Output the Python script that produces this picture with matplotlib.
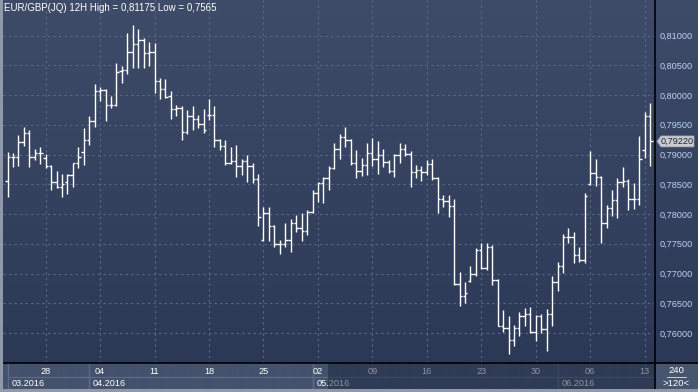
import numpy as np
import matplotlib.pyplot as plt
from matplotlib.patches import Rectangle, Polygon
from matplotlib.lines import Line2D
from matplotlib.ticker import FuncFormatter
from matplotlib.colors import to_rgb

# EUR/GBP 12H bars, 22.03.2016 - 14.06.2016
opens = [0.7856, 0.7895, 0.7895, 0.7921, 0.7937, 0.7895, 0.7902, 0.7894, 0.7881, 0.7853,
         0.7846, 0.7853, 0.7865, 0.7886, 0.7904, 0.7925, 0.7957, 0.8007, 0.8009, 0.7984,
         0.7984, 0.8040, 0.8042, 0.8072, 0.8086, 0.8092, 0.8070, 0.8072, 0.8024, 0.8010,
         0.7998, 0.7977, 0.7979, 0.7938, 0.7964, 0.7959, 0.7951, 0.7967, 0.7967, 0.7925,
         0.7914, 0.7886, 0.7889, 0.7881, 0.7889, 0.7881, 0.7859, 0.7757, 0.7801, 0.7780,
         0.7749, 0.7749, 0.7756, 0.7785, 0.7776, 0.7772, 0.7803, 0.7836, 0.7852, 0.7860,
         0.7878, 0.7909, 0.7930, 0.7925, 0.7885, 0.7872, 0.7883, 0.7902, 0.7892, 0.7900,
         0.7888, 0.7873, 0.7899, 0.7909, 0.7901, 0.7871, 0.7874, 0.7871, 0.7884, 0.7860,
         0.7825, 0.7822, 0.7813, 0.7683, 0.7663, 0.7687, 0.7699, 0.7739, 0.7710, 0.7745,
         0.7689, 0.7612, 0.7608, 0.7589, 0.7608, 0.7629, 0.7632, 0.7601, 0.7629, 0.7607,
         0.7632, 0.7685, 0.7713, 0.7762, 0.7762, 0.7731, 0.7723, 0.7850, 0.7869, 0.7862,
         0.7785, 0.7810, 0.7824, 0.7853, 0.7856, 0.7826, 0.7826, 0.7907, 0.7965]
highs = [0.7905, 0.7902, 0.7933, 0.7946, 0.7942, 0.7909, 0.7912, 0.7901, 0.7883, 0.7872,
         0.7867, 0.7868, 0.7886, 0.7913, 0.7944, 0.7965, 0.8019, 0.8014, 0.8010, 0.7998,
         0.8053, 0.8048, 0.8104, 0.8118, 0.8111, 0.8095, 0.8089, 0.8087, 0.8028, 0.8027,
         0.8007, 0.7983, 0.7981, 0.7975, 0.7982, 0.7967, 0.7976, 0.7993, 0.7982, 0.7926,
         0.7925, 0.7913, 0.7916, 0.7893, 0.7899, 0.7886, 0.7868, 0.7811, 0.7811, 0.7782,
         0.7756, 0.7785, 0.7792, 0.7798, 0.7801, 0.7806, 0.7841, 0.7854, 0.7862, 0.7881,
         0.7919, 0.7935, 0.7947, 0.7926, 0.7908, 0.7894, 0.7919, 0.7927, 0.7922, 0.7909,
         0.7891, 0.7901, 0.7919, 0.7918, 0.7906, 0.7883, 0.7880, 0.7891, 0.7892, 0.7862,
         0.7832, 0.7832, 0.7826, 0.7702, 0.7685, 0.7713, 0.7743, 0.7752, 0.7751, 0.7748,
         0.7690, 0.7639, 0.7629, 0.7614, 0.7636, 0.7642, 0.7644, 0.7631, 0.7632, 0.7640,
         0.7696, 0.7719, 0.7766, 0.7776, 0.7770, 0.7745, 0.7835, 0.7906, 0.7893, 0.7864,
         0.7815, 0.7841, 0.7860, 0.7879, 0.7859, 0.7852, 0.7931, 0.7972, 0.7986]
lows = [0.7829, 0.7879, 0.7881, 0.7914, 0.7879, 0.7891, 0.7884, 0.7877, 0.7841, 0.7844,
        0.7829, 0.7833, 0.7845, 0.7877, 0.7883, 0.7916, 0.7947, 0.7990, 0.7957, 0.7979,
        0.7982, 0.8020, 0.8036, 0.8045, 0.8045, 0.8045, 0.8049, 0.8003, 0.7993, 0.7995,
        0.7959, 0.7964, 0.7925, 0.7935, 0.7942, 0.7944, 0.7937, 0.7958, 0.7912, 0.7907,
        0.7883, 0.7884, 0.7862, 0.7866, 0.7853, 0.7852, 0.7780, 0.7755, 0.7754, 0.7745,
        0.7733, 0.7745, 0.7737, 0.7769, 0.7754, 0.7765, 0.7801, 0.7821, 0.7819, 0.7840,
        0.7876, 0.7892, 0.7912, 0.7883, 0.7860, 0.7864, 0.7866, 0.7881, 0.7867, 0.7879,
        0.7869, 0.7863, 0.7886, 0.7898, 0.7845, 0.7861, 0.7856, 0.7866, 0.7858, 0.7801,
        0.7811, 0.7795, 0.7681, 0.7646, 0.7650, 0.7686, 0.7695, 0.7707, 0.7706, 0.7681,
        0.7611, 0.7602, 0.7565, 0.7578, 0.7595, 0.7611, 0.7600, 0.7586, 0.7600, 0.7570,
        0.7611, 0.7670, 0.7701, 0.7751, 0.7718, 0.7719, 0.7718, 0.7849, 0.7847, 0.7752,
        0.7776, 0.7797, 0.7794, 0.7845, 0.7806, 0.7808, 0.7815, 0.7894, 0.7881]
closes = [0.7895, 0.7895, 0.7921, 0.7937, 0.7895, 0.7902, 0.7902, 0.7881, 0.7853, 0.7846,
          0.7851, 0.7865, 0.7886, 0.7895, 0.7925, 0.7957, 0.8007, 0.8009, 0.7984, 0.7984,
          0.8038, 0.8042, 0.8072, 0.8086, 0.8092, 0.8070, 0.8072, 0.8024, 0.8010, 0.7996,
          0.7977, 0.7979, 0.7938, 0.7964, 0.7959, 0.7951, 0.7942, 0.7967, 0.7925, 0.7914,
          0.7886, 0.7889, 0.7881, 0.7889, 0.7881, 0.7859, 0.7795, 0.7801, 0.7780, 0.7749,
          0.7749, 0.7756, 0.7785, 0.7776, 0.7772, 0.7803, 0.7836, 0.7852, 0.7860, 0.7878,
          0.7909, 0.7930, 0.7925, 0.7885, 0.7872, 0.7883, 0.7902, 0.7892, 0.7900, 0.7888,
          0.7873, 0.7899, 0.7909, 0.7901, 0.7871, 0.7874, 0.7871, 0.7884, 0.7860, 0.7825,
          0.7822, 0.7813, 0.7683, 0.7663, 0.7667, 0.7699, 0.7739, 0.7710, 0.7745, 0.7689,
          0.7612, 0.7608, 0.7589, 0.7608, 0.7629, 0.7632, 0.7601, 0.7629, 0.7607, 0.7632,
          0.7685, 0.7713, 0.7762, 0.7762, 0.7731, 0.7723, 0.7830, 0.7869, 0.7862, 0.7785,
          0.7810, 0.7824, 0.7853, 0.7856, 0.7826, 0.7826, 0.7892, 0.7965, 0.7922]

# first bar of each week (Monday 00:00) and its day label
week_bars = [7, 17, 27, 37, 47, 57, 67, 77, 87, 97, 107, 117]
week_labels = ['28', '04', '11', '18', '25', '02', '09', '16', '23', '30', '06', '13']
month_bars = [0, 15, 56, 101]
month_labels = ['03.2016', '04.2016', '05.2016', '06.2016']
price_ticks = [0.760, 0.765, 0.770, 0.775, 0.780, 0.785, 0.790, 0.795, 0.800, 0.805, 0.810]
title = 'EUR/GBP(JQ) 12H High = 0,81175 Low = 0,7565'

W, H = 698, 392
plt.rcParams['font.family'] = ['Liberation Sans', 'DejaVu Sans']


def box(x0, y0, x1, y1):
    # pixel box (top-left origin) -> figure fraction rect
    return [x0 / W, 1 - y1 / H, (x1 - x0) / W, (y1 - y0) / H]


def fx(x):
    return x / W


def fy(y):
    return 1 - y / H


fig = plt.figure(figsize=(W / 100, H / 100), dpi=100)

# background gradient
bg = fig.add_axes([0, 0, 1, 1])
top_c = np.array(to_rgb('#3e4c69'))
bot_c = np.array(to_rgb('#2b3957'))
strip_c = np.array(to_rgb('#44526d'))
rows = np.zeros((H, 1, 3))
for r in range(H):
    if r < 363:
        t = r / 362
        rows[r, 0] = top_c * (1 - t) + bot_c * t
    else:
        rows[r, 0] = strip_c
bg.imshow(rows, aspect='auto', extent=[0, 1, 0, 1])
bg.set_axis_off()

# main chart
ax = fig.add_axes(box(3, 0, 655, 363))
ax.set_facecolor('none')
x = np.arange(len(closes))
ax.vlines(x, lows, highs, color='white', lw=1.0)
ax.hlines(opens, x - 0.45, x, color='white', lw=1.0)
ax.hlines(closes, x, x + 0.45, color='white', lw=1.0)
ax.set_xlim(-0.84, 118.9)
ax.set_ylim(0.81597 - 363 / 5950, 0.81597)
ax.set_xticks(week_bars)
ax.set_yticks(price_ticks)
ax.grid(True, color='#5a6988', ls=(0, (2, 3)), lw=0.8)
ax.yaxis.tick_right()
ax.yaxis.set_major_formatter(FuncFormatter(lambda v, p: f'{v:.5f}'.replace('.', ',')))
ax.tick_params(axis='y', length=0, pad=3.5, labelsize=6.6, labelcolor='#bcd2f2')
ax.tick_params(axis='x', length=0, labelbottom=False)
for s in ['top', 'left', 'bottom']:
    ax.spines[s].set_visible(False)
ax.spines['right'].set_color('black')
ax.spines['right'].set_linewidth(1.2)
ax.text(0.002, 0.992, title, transform=ax.transAxes, ha='left', va='top',
        color='white', fontsize=7)

# date strip
st = fig.add_axes(box(3, 363, 655, 389))
st.set_xlim(ax.get_xlim())
st.set_ylim(0, 1)
st.set_facecolor('none')
st.set_axis_off()
for i, (mb, ml) in enumerate(zip(month_bars, month_labels)):
    end = month_bars[i + 1] if i + 1 < len(month_bars) else 118.9
    st.add_patch(Rectangle((mb, 0.0), end - mb, 0.46, fc='none', ec='#5c6a86', lw=0.9, zorder=1))
    st.plot([mb, mb], [0, 1], color='#5c6a86', lw=0.9, zorder=1)
    st.text(mb + 0.7, 0.22, ml, ha='left', va='center', color='white', fontsize=6.6, zorder=2)
for wb, wl in zip(week_bars, week_labels):
    st.text(wb, 0.66, wl, ha='center', va='center', color='white', fontsize=6.6, zorder=2)
st.add_patch(Rectangle((58.8, 0), 118.9 - 58.8, 1, fc='#1c2740', alpha=0.5, ec='none', zorder=3))

# lower right corner
fig.patches.append(Rectangle((fx(655), fy(389)), 43 / W, 26 / H, transform=fig.transFigure,
                             fc='#47556f', ec='none', zorder=1))
fig.text(fx(676), fy(370.5), '240', ha='center', va='center', color='white', fontsize=6.8)
fig.text(fx(676), fy(383), '>120<', ha='center', va='center', color='white', fontsize=6.8)
fig.lines.append(Line2D([fx(667), fx(686)], [fy(377), fy(377)], transform=fig.transFigure,
                        color='#c8d0dc', lw=0.7))

# frame lines
fig.lines.append(Line2D([0, 1], [fy(363), fy(363)], transform=fig.transFigure, color='black', lw=1.2))
fig.lines.append(Line2D([fx(655), fx(655)], [fy(363), fy(389)], transform=fig.transFigure,
                        color='black', lw=1.2))
for rect in [(0, 0, 2.5, H), (0, 389, W, 3)]:
    fig.patches.append(Rectangle((fx(rect[0]), fy(rect[1] + rect[3])), rect[2] / W, rect[3] / H,
                                 transform=fig.transFigure, fc='#8f99aa', ec='none', zorder=5))

# last price marker
last = closes[-1]
ly = ax.transData.transform((0, last))[1]
ly = H - ly
fig.patches.append(Polygon([(fx(657), fy(ly)), (fx(661), fy(ly - 5.5)), (fx(694), fy(ly - 5.5)),
                            (fx(694), fy(ly + 5.5)), (fx(661), fy(ly + 5.5))],
                           closed=True, transform=fig.transFigure, fc='#c9cbcf', ec='#9aa0aa',
                           lw=0.5, zorder=6))
fig.text(fx(677.5), fy(ly), f'{last:.5f}'.replace('.', ','), ha='center', va='center',
         color='#1e2533', fontsize=6.6, zorder=7)

fig.savefig('out.png', dpi=100)
